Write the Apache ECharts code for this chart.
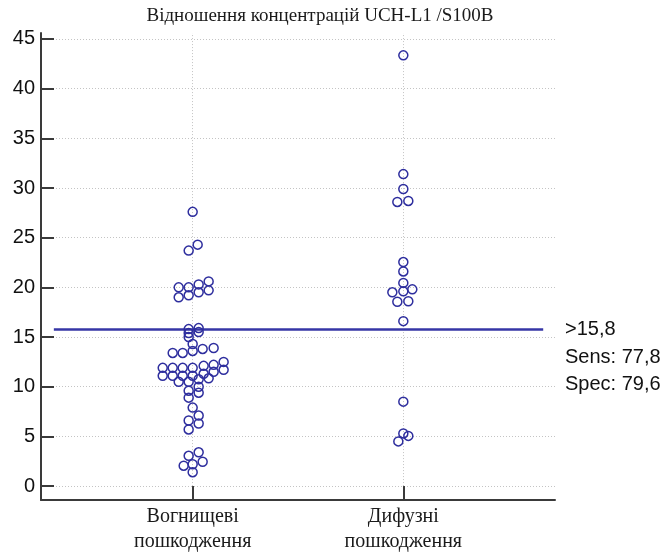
<!DOCTYPE html>
<html>
<head>
<meta charset="utf-8">
<script src="https://cdn.jsdelivr.net/npm/echarts@6/dist/echarts.min.js"></script>
<style>
html,body{margin:0;padding:0;background:#fff;}
#chart{width:663px;height:554px;}
</style>
</head>
<body>
<div id="chart"></div>
<script>
// ---- data ----
const titleText = 'Відношення концентрацій UCH-L1 /S100B';
const categories = ['Вогнищеві\nпошкодження', 'Дифузні\nпошкодження'];
const yTicks = [0, 5, 10, 15, 20, 25, 30, 35, 40, 45];

// group 1: focal lesions (values and beeswarm slot index)
const focalValues = [27.6, 24.3, 23.7,
  20.0, 19.0, 20.0, 19.2, 20.3, 19.5, 20.6, 19.7,
  15.9, 15.8, 15.5, 15.4, 15.0,
  14.3, 13.6, 13.4, 13.4, 13.8, 13.9,
  11.9, 11.1, 11.9, 11.1, 11.9, 11.1, 11.9, 11.1,
  12.1, 11.3, 12.2, 11.5, 12.5, 11.7,
  10.5, 10.5, 10.75, 10.85,
  9.6, 10.0, 8.9, 9.4,
  7.9, 7.1, 6.3, 6.6, 5.7,
  3.4, 3.05, 2.45, 2.05, 2.2, 1.4];
const focalSlots = [0, 0.5, -0.4,
  -1.4, -1.4, -0.4, -0.4, 0.6, 0.6, 1.6, 1.6,
  0.6, -0.4, 0.6, -0.4, -0.4,
  0, 0, -2, -1, 1, 2.1,
  -3, -3, -2, -2, -1, -1, 0, 0,
  1.1, 1.1, 2.1, 2.1, 3.1, 3.1,
  -1.4, -0.4, 0.6, 1.6,
  -0.4, 0.6, -0.4, 0.6,
  0, 0.6, 0.6, -0.4, -0.4,
  0.6, -0.4, 1, -0.9, 0, 0];

// group 2: diffuse lesions
const diffuseValues = [43.35, 31.4, 29.9, 28.6, 28.7,
  22.55, 21.6, 20.45, 19.6, 19.5, 19.8, 18.55, 18.6, 16.6,
  8.5, 5.3, 5.05, 4.5];
const diffuseSlots = [0, 0, 0, -0.6, 0.5,
  0, 0, 0, 0, -1.1, 0.9, -0.6, 0.5, 0,
  0, 0, 0.5, -0.5];

const cutoff = 15.8;
const sens = 77.8;
const spec = 79.6;

// ---- layout ----
const slotWidth = 0.0474;
const yMin = -1.4, yMax = 45.6;
const markColor = '#2e2e9e';
const fmt = v => String(v).replace('.', ',');

function toPoints(vals, slots, cat) {
  return vals.map((v, i) => [cat + slots[i] * slotWidth, v]);
}

const chart = echarts.init(document.getElementById('chart'), null, {renderer: 'canvas'});
const gridStyle = {color: '#c4c4c4', width: 1, type: [1, 2]};
const axisColor = '#3a3a3a';

const option = {
  animation: false,
  backgroundColor: '#fff',
  grid: {left: 41, right: 108, top: 33, bottom: 53, containLabel: false},
  xAxis: {
    type: 'value', min: 0.28, max: 2.72,
    axisLine: {show: true, onZero: false, lineStyle: {color: axisColor, width: 2}},
    axisTick: {show: true, inside: true, length: 14, customValues: [1, 2], lineStyle: {color: axisColor, width: 2}},
    axisLabel: {
      customValues: [1, 2],
      formatter: v => categories[Math.round(v) - 1],
      fontFamily: 'Liberation Serif', fontSize: 20, color: '#1a1a1a', lineHeight: 25, margin: 4
    },
    splitLine: {show: false}
  },
  yAxis: {
    type: 'value', min: yMin, max: yMax,
    axisLine: {show: true, onZero: false, lineStyle: {color: axisColor, width: 2}},
    axisTick: {show: true, inside: true, length: 13, customValues: yTicks, lineStyle: {color: axisColor, width: 2}},
    axisLabel: {customValues: yTicks, fontFamily: 'Liberation Sans', fontSize: 20, color: '#111', margin: 6},
    splitLine: {show: true, lineStyle: gridStyle}
  },
  series: [
    {
      type: 'scatter', name: 'grid', data: [], silent: true,
      markLine: {
        silent: true, symbol: 'none', animation: false,
        label: {show: false},
        lineStyle: gridStyle,
        data: [1, 2].map(c => [{coord: [c, yTicks[0]]}, {coord: [c, yMax]}])
      }
    },
    {
      type: 'scatter', name: categories[0], symbol: 'circle', symbolSize: 9,
      data: toPoints(focalValues, focalSlots, 1),
      itemStyle: {color: 'transparent', borderColor: markColor, borderWidth: 1.5, opacity: 1},
      z: 5
    },
    {
      type: 'scatter', name: categories[1], symbol: 'circle', symbolSize: 9,
      data: toPoints(diffuseValues, diffuseSlots, 2),
      itemStyle: {color: 'transparent', borderColor: markColor, borderWidth: 1.5, opacity: 1},
      z: 5,
      markLine: {
        silent: true, symbol: 'none', animation: false,
        label: {show: false},
        lineStyle: {color: '#3636a6', width: 2.5, type: 'solid'},
        data: [[{coord: [0.341, cutoff]}, {coord: [2.664, cutoff]}]]
      }
    }
  ]
};
chart.setOption(option);

const yPix = chart.convertToPixel({gridIndex: 0}, [0, cutoff])[1];
const txtStyle = {fontFamily: 'Liberation Sans', fontSize: 20, fill: '#111', textVerticalAlign: 'middle'};
chart.setOption({
  graphic: [
    {type: 'text', x: 320, y: 7, style: {text: titleText, fontFamily: 'Liberation Serif', fontSize: 19, fill: '#1a1a1a', textAlign: 'center', textVerticalAlign: 'top'}},
    {type: 'text', x: 565, y: yPix, style: Object.assign({text: '>' + fmt(cutoff)}, txtStyle)},
    {type: 'text', x: 565, y: yPix + 28, style: Object.assign({text: 'Sens: ' + fmt(sens)}, txtStyle)},
    {type: 'text', x: 565, y: yPix + 55, style: Object.assign({text: 'Spec: ' + fmt(spec)}, txtStyle)}
  ]
});
</script>
</body>
</html>
